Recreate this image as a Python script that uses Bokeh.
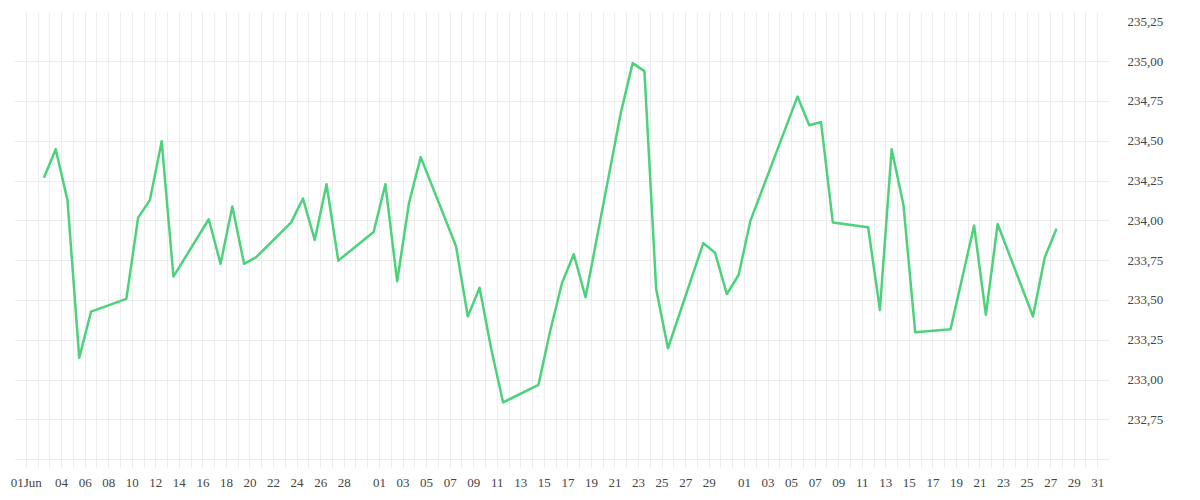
import pandas as pd
from bokeh.plotting import figure
from bokeh.models import FixedTicker, CustomJSTickFormatter, Range1d
from bokeh.embed import file_html
from bokeh.resources import INLINE

# ---- data ----
dates = [
    "2023-06-02", "2023-06-03", "2023-06-04", "2023-06-05", "2023-06-06",
    "2023-06-09", "2023-06-10", "2023-06-11", "2023-06-12", "2023-06-13",
    "2023-06-16", "2023-06-17", "2023-06-18", "2023-06-19", "2023-06-20",
    "2023-06-23", "2023-06-24", "2023-06-25", "2023-06-26", "2023-06-27",
    "2023-06-30", "2023-07-01", "2023-07-02", "2023-07-03", "2023-07-04",
    "2023-07-07", "2023-07-08", "2023-07-09", "2023-07-10", "2023-07-11",
    "2023-07-14", "2023-07-15", "2023-07-16", "2023-07-17", "2023-07-18",
    "2023-07-21", "2023-07-22", "2023-07-23", "2023-07-24", "2023-07-25",
    "2023-07-28", "2023-07-29", "2023-07-30", "2023-07-31", "2023-08-01",
    "2023-08-05", "2023-08-06", "2023-08-07", "2023-08-08",
    "2023-08-11", "2023-08-12", "2023-08-13", "2023-08-14", "2023-08-15",
    "2023-08-18", "2023-08-20", "2023-08-21", "2023-08-22",
    "2023-08-25", "2023-08-26", "2023-08-27",
]
values = [
    234.27, 234.45, 234.13, 233.14, 233.43,
    233.51, 234.02, 234.13, 234.50, 233.65,
    234.01, 233.73, 234.09, 233.73, 233.77,
    233.99, 234.14, 233.88, 234.23, 233.75,
    233.93, 234.23, 233.62, 234.11, 234.40,
    233.84, 233.40, 233.58, 233.19, 232.86,
    232.97, 233.31, 233.61, 233.79, 233.52,
    234.68, 234.99, 234.94, 233.57, 233.20,
    233.86, 233.80, 233.54, 233.66, 234.00,
    234.78, 234.60, 234.62, 233.99,
    233.96, 233.44, 234.45, 234.10, 233.30,
    233.32, 233.97, 233.41, 233.98,
    233.40, 233.77, 233.95,
]
x_tick_dates = (["2023-06-01"] + ["2023-06-%02d" % d for d in range(4, 29, 2)]
                + ["2023-07-%02d" % d for d in range(1, 30, 2)]
                + ["2023-08-%02d" % d for d in range(1, 32, 2)])
y_label_ticks = [232.75, 233.0, 233.25, 233.5, 233.75, 234.0, 234.25, 234.5, 234.75, 235.0, 235.25]
y_grid_ticks = [232.5, 232.75, 233.0, 233.25, 233.5, 233.75, 234.0, 234.25, 234.5, 234.75, 235.0]
x_start, x_end = "2023-05-31", "2023-09-01"
y_start, y_end = 232.445, 235.308

def ms(s):
    return pd.Timestamp(s).value / 1e6

x = [pd.Timestamp(d) + pd.Timedelta(hours=12) for d in dates]

p = figure(x_axis_type="datetime", output_backend="svg", toolbar_location=None,
           frame_width=1095, frame_height=456,
           x_range=Range1d(ms(x_start), ms(x_end)),
           y_range=Range1d(y_start, y_end),
           min_border_left=14, min_border_top=12, min_border_right=10, min_border_bottom=0,
           y_axis_location="right")
p.outline_line_color = None
p.background_fill_color = "white"
p.border_fill_color = "white"

p.line(x, values, line_color="#4cd27b", line_width=2.5, line_join="round")

xticks = [ms(d) for d in x_tick_dates]
p.xaxis.ticker = FixedTicker(ticks=xticks)
p.xaxis.formatter = CustomJSTickFormatter(code="""
const d = new Date(tick);
const dd = String(d.getUTCDate()).padStart(2, '0');
return index == 0 ? dd + 'Jun' : dd;
""")
daily = [ms(d) for d in pd.date_range(x_start, x_end, freq="D")]
p.xgrid.ticker = FixedTicker(ticks=daily)

p.yaxis.ticker = FixedTicker(ticks=y_label_ticks)
p.yaxis.formatter = CustomJSTickFormatter(code="return tick.toFixed(2).replace('.', ',');")
p.ygrid.ticker = FixedTicker(ticks=y_grid_ticks)

for g in (p.xgrid, p.ygrid):
    g.grid_line_color = "#ececec"
    g.grid_line_width = 1

for ax in (p.xaxis, p.yaxis):
    ax.axis_line_color = None
    ax.major_tick_line_color = None
    ax.minor_tick_line_color = None
    ax.major_tick_out = 0
    ax.major_tick_in = 0
    ax.major_label_text_font = "Liberation Serif"
    ax.major_label_text_font_size = "13px"
    ax.major_label_text_color = "#444444"
p.xaxis.major_label_standoff = 6
p.yaxis.major_label_standoff = 18
p.yaxis.major_label_text_align = "left"

open("out.html", "w").write(file_html(p, INLINE))
